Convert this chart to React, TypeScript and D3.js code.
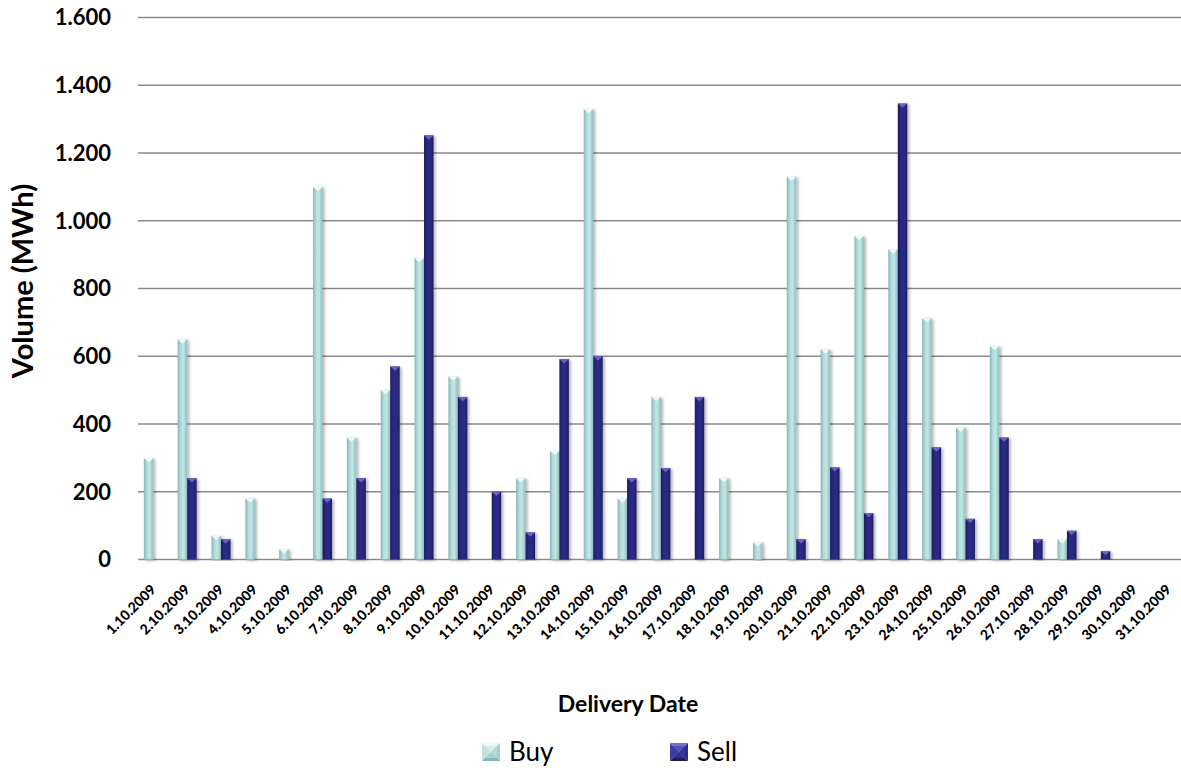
import * as d3 from 'd3';

const dates = [
  '1.10.2009', '2.10.2009', '3.10.2009', '4.10.2009', '5.10.2009', '6.10.2009',
  '7.10.2009', '8.10.2009', '9.10.2009', '10.10.2009', '11.10.2009', '12.10.2009',
  '13.10.2009', '14.10.2009', '15.10.2009', '16.10.2009', '17.10.2009', '18.10.2009',
  '19.10.2009', '20.10.2009', '21.10.2009', '22.10.2009', '23.10.2009', '24.10.2009',
  '25.10.2009', '26.10.2009', '27.10.2009', '28.10.2009', '29.10.2009', '30.10.2009',
  '31.10.2009',
];
const buy = [
  300, 650, 70, 180, 30, 1100, 360, 500, 890, 540, 0, 240, 320, 1330, 180, 480,
  0, 240, 50, 1130, 620, 955, 915, 712, 390, 630, 0, 60, 0, 0, 0,
];
const sell = [
  0, 240, 60, 0, 0, 180, 240, 570, 1252, 480, 200, 80, 592, 600, 240, 270,
  480, 0, 0, 60, 272, 137, 1346, 331, 120, 360, 60, 85, 25, 0, 0,
];
const yTicks = [0, 200, 400, 600, 800, 1000, 1200, 1400, 1600];
const seriesNames = ['Buy', 'Sell'];

const width = 1181;
const height = 771;
const font = 'Lato, "Open Sans", sans-serif';

const de = d3.formatLocale({ decimal: ',', thousands: '.', grouping: [3], currency: ['', ''] });
const fmt = de.format(',');

const x = d3.scaleBand<string>().domain(dates).range([136.4, 1185.4]);
const bw = x.bandwidth();
const x1 = d3.scaleBand<string>().domain(seriesNames).range([bw * 0.22, bw * 0.78]);
const y = d3.scaleLinear().domain([0, 1600]).range([559.5, 17.5]);

const colors = {
  Buy: { grad: 'gBuy', cap: '#f4fcfc', shade: ['#eaf8f8', '#c2e2e2', '#a6cece', '#86b6b6'] },
  Sell: { grad: 'gSell', cap: '#6a6ac8', shade: ['#7070d4', '#3c3ca4', '#2c2c8a', '#1c1c60'] },
};

function Bar({ cx, v, s }: { cx: number; v: number; s: 'Buy' | 'Sell' }) {
  if (!v) return null;
  const w = x1.bandwidth();
  const x0 = cx + (x1(s) ?? 0);
  const top = y(v);
  const h = y(0) - top;
  const c = colors[s];
  return (
    <g>
      <rect x={x0} y={top} width={w} height={h} fill={`url(#${c.grad})`} filter='url(#shadow)' />
      <polygon
        points={`${x0},${top} ${x0 + w},${top} ${x0 + w / 2},${top + Math.min(w * 0.45, h)}`}
        fill={c.cap}
        opacity={0.9}
      />
    </g>
  );
}

function Swatch({ x0, y0, s }: { x0: number; y0: number; s: 'Buy' | 'Sell' }) {
  const n = 18;
  const [t, l, r, b] = colors[s].shade;
  const mx = x0 + n / 2;
  const my = y0 + n / 2;
  return (
    <g>
      <polygon points={`${x0},${y0} ${x0 + n},${y0} ${mx},${my}`} fill={t} />
      <polygon points={`${x0},${y0} ${x0},${y0 + n} ${mx},${my}`} fill={l} />
      <polygon points={`${x0 + n},${y0} ${x0 + n},${y0 + n} ${mx},${my}`} fill={r} />
      <polygon points={`${x0},${y0 + n} ${x0 + n},${y0 + n} ${mx},${my}`} fill={b} />
      <rect x={x0 + 3} y={y0 + 3} width={n - 6} height={n - 6} fill={l} opacity={0.6} />
    </g>
  );
}

export default function App() {
  return (
    <>
      <style>{'body{margin:0}'}</style>
      <svg width={width} height={height} style={{ display: 'block', background: '#fff' }}>
        <defs>
          <linearGradient id='gBuy' x1='0' x2='1' y1='0' y2='0'>
            <stop offset='0%' stopColor='#86b6b6' />
            <stop offset='30%' stopColor='#b2d9d9' />
            <stop offset='60%' stopColor='#c4e6e6' />
            <stop offset='100%' stopColor='#8dbcbc' />
          </linearGradient>
          <linearGradient id='gSell' x1='0' x2='1' y1='0' y2='0'>
            <stop offset='0%' stopColor='#1d1d62' />
            <stop offset='40%' stopColor='#2b2b86' />
            <stop offset='70%' stopColor='#2a2a84' />
            <stop offset='100%' stopColor='#1c1c5e' />
          </linearGradient>
          <filter id='shadow' x='-50%' y='-5%' width='200%' height='110%'>
            <feDropShadow dx='2' dy='1' stdDeviation='1.5' floodColor='#000' floodOpacity='0.3' />
          </filter>
        </defs>

        <g>
          {yTicks.map((t) => (
            <g key={t}>
              <line x1={138} x2={width} y1={y(t)} y2={y(t)} stroke='#8a8a8a' strokeWidth={1.6} />
              <text
                x={111}
                y={y(t)}
                dy='0.36em'
                textAnchor='end'
                fontFamily={font}
                fontWeight='bold'
                fontSize={22}
                fill='#000'
              >
                {fmt(t)}
              </text>
            </g>
          ))}
        </g>

        <g>
          {dates.map((d, i) => {
            const cx = x(d) ?? 0;
            return (
              <g key={d}>
                <Bar cx={cx} v={buy[i]} s='Buy' />
                <Bar cx={cx} v={sell[i]} s='Sell' />
              </g>
            );
          })}
        </g>

        <g fontFamily={font} fontWeight={900} fontSize={14}>
          {dates.map((d) => (
            <text
              key={d}
              transform={`translate(${(x(d) ?? 0) + bw / 2},587) rotate(-45)`}
              textAnchor='end'
              dy='0.35em'
            >
              {d}
            </text>
          ))}
        </g>

        <text
          transform='translate(33,281) rotate(-90)'
          textAnchor='middle'
          fontFamily={font}
          fontWeight='bold'
          fontSize={29}
        >
          Volume (MWh)
        </text>

        <text x={628} y={712} textAnchor='middle' fontFamily={font} fontWeight='bold' fontSize={23}>
          Delivery Date
        </text>

        <g fontFamily={font} fontSize={26}>
          <Swatch x0={482} y0={743} s='Buy' />
          <text x={509} y={761}>{seriesNames[0]}</text>
          <Swatch x0={670} y0={743} s='Sell' />
          <text x={697} y={761}>{seriesNames[1]}</text>
        </g>
      </svg>
    </>
  );
}
